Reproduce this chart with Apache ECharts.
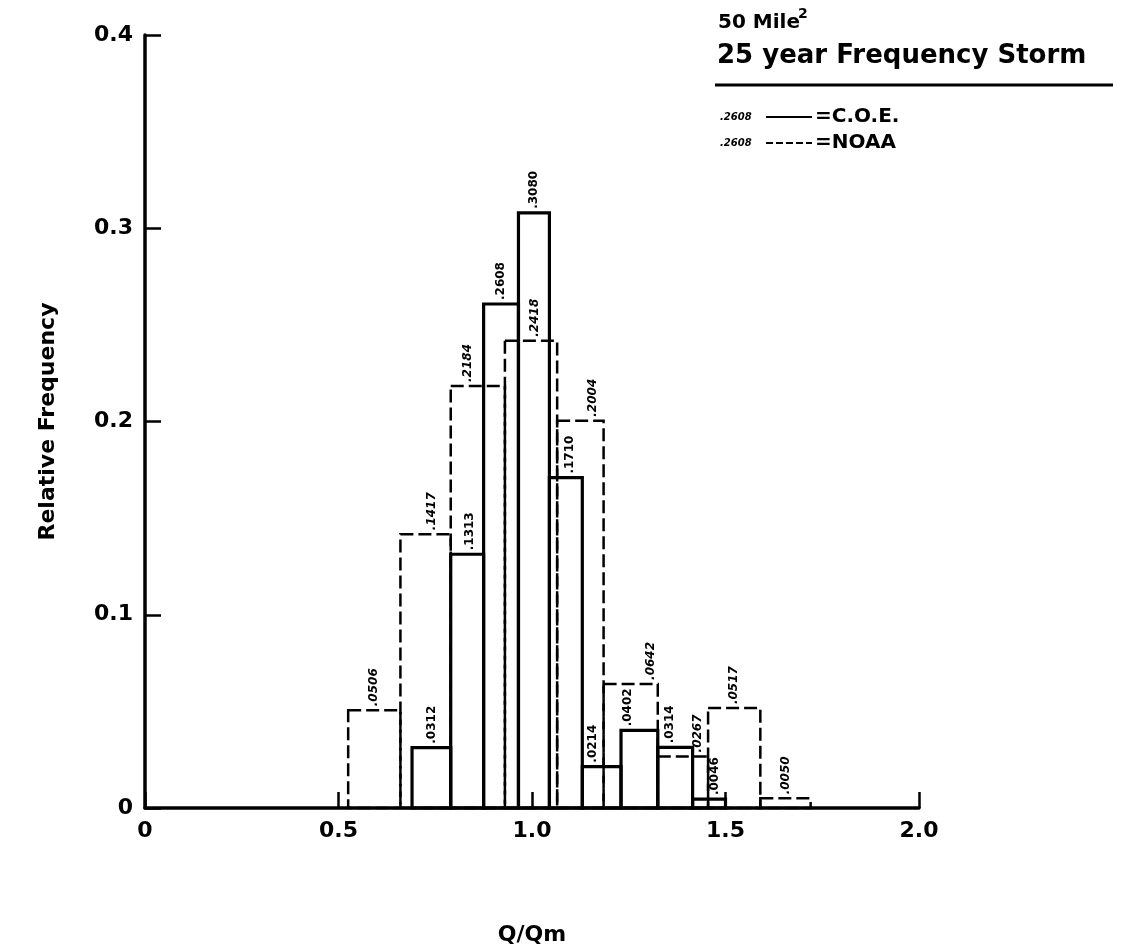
<!DOCTYPE html>
<html><head><meta charset="utf-8">
<script src="https://cdn.jsdelivr.net/npm/echarts@6/dist/echarts.min.js"></script>
<style>html,body{margin:0;padding:0;background:#fff}#c{width:1121px;height:951px}</style>
</head><body><div id="c"></div>
<script>
// ---------- DATA ----------
const coeEdges   = [0.69, 0.79, 0.875, 0.965, 1.045, 1.13, 1.23, 1.325, 1.415, 1.50];
const coeValues  = [0.0312, 0.1313, 0.2608, 0.3080, 0.1710, 0.0214, 0.0402, 0.0314, 0.0046];
const coeLabels  = ['.0312', '.1313', '.2608', '.3080', '.1710', '.0214', '.0402', '.0314', '.0046'];
const noaaEdges  = [0.525, 0.66, 0.79, 0.93, 1.065, 1.185, 1.325, 1.455, 1.59, 1.72];
const noaaValues = [0.0506, 0.1417, 0.2184, 0.2418, 0.2004, 0.0642, 0.0267, 0.0517, 0.0050];
const noaaLabels = ['.0506', '.1417', '.2184', '.2418', '.2004', '.0642', '.0267', '.0517', '.0050'];
const xTickLabels = {0: '0', 0.5: '0.5', 1: '1.0', 1.5: '1.5', 2: '2.0'};
const yTickLabels = {0: '0', 0.1: '0.1', 0.2: '0.2', 0.3: '0.3', 0.4: '0.4'};
const titleLine1 = '50 Mile';
const titleSup = '2';
const titleLine2 = '25 year Frequency Storm';
const legendSample = '.2608';
const legendCOE = '=C.O.E.';
const legendNOAA = '=NOAA';
const xName = 'Q/Qm';
const yName = 'Relative Frequency';

// ---------- STYLE (label nudges in px) ----------
const coeLabelDx  = [0, 3, 0, 0, 4, -9, -12, -5, 6];
const noaaLabelDx = [0, 6, -10, 4, 12, 20, 15, 0, 0];
const FONT = 'DejaVu Sans';

function binData(edges, values) {
  return values.map((v, i) => [edges[i], edges[i + 1], v]);
}

function makeRender(dashed, labels, dxArr) {
  return function (params, api) {
    const x0 = api.value(0), x1 = api.value(1), v = api.value(2);
    const p0 = api.coord([x0, v]);
    const p1 = api.coord([x1, 0]);
    const i = params.dataIndex;
    const cx = (p0[0] + p1[0]) / 2 + dxArr[i];
    return {
      type: 'group',
      children: [
        {
          type: 'rect',
          shape: { x: p0[0], y: p0[1], width: p1[0] - p0[0], height: p1[1] - p0[1] },
          style: { fill: 'none', stroke: '#000', lineWidth: dashed ? 2.5 : 3.2, lineDash: dashed ? [13, 5] : null }
        },
        {
          type: 'text',
          x: cx, y: p0[1] - 4,
          rotation: Math.PI / 2,
          style: {
            text: labels[i], fill: '#000',
            fontFamily: FONT, fontSize: 12, fontWeight: 'bold',
            fontStyle: dashed ? 'italic' : 'normal',
            align: 'left', verticalAlign: 'middle'
          }
        }
      ]
    };
  };
}

const chart = echarts.init(document.getElementById('c'), null, { renderer: 'canvas' });
chart.setOption({
  backgroundColor: '#fff',
  animation: false,
  grid: { left: 145, top: 35, right: 202, bottom: 143 },
  xAxis: {
    type: 'value', min: 0, max: 2, interval: 0.5,
    name: xName, nameLocation: 'middle', nameGap: 116,
    nameTextStyle: { fontFamily: FONT, fontSize: 22, fontWeight: 'bold', color: '#000' },
    axisLine: { show: true, lineStyle: { color: '#000', width: 3.5 } },
    axisTick: { show: true, inside: true, length: 16, lineStyle: { color: '#000', width: 2.5 } },
    axisLabel: { margin: 12, color: '#000', fontFamily: FONT, fontSize: 22, fontWeight: 'bold',
      formatter: v => xTickLabels[v] },
    splitLine: { show: false }
  },
  yAxis: {
    type: 'value', min: 0, max: 0.4, interval: 0.1,
    name: yName, nameLocation: 'middle', nameGap: 86, nameRotate: 90,
    nameTextStyle: { fontFamily: FONT, fontSize: 22, fontWeight: 'bold', color: '#000' },
    axisLine: { show: true, lineStyle: { color: '#000', width: 3.5 } },
    axisTick: { show: true, inside: true, length: 16, lineStyle: { color: '#000', width: 2.5 } },
    axisLabel: { margin: 12, color: '#000', fontFamily: FONT, fontSize: 22, fontWeight: 'bold',
      formatter: v => yTickLabels[Math.round(v * 10) / 10] },
    splitLine: { show: false }
  },
  series: [
    {
      type: 'custom', name: 'NOAA',
      renderItem: makeRender(true, noaaLabels, noaaLabelDx),
      encode: { x: [0, 1], y: 2 },
      data: binData(noaaEdges, noaaValues),
      z: 2
    },
    {
      type: 'custom', name: 'C.O.E.',
      renderItem: makeRender(false, coeLabels, coeLabelDx),
      encode: { x: [0, 1], y: 2 },
      data: binData(coeEdges, coeValues),
      z: 3
    }
  ],
  graphic: [
    { type: 'text', x: 718, y: 13, style: { text: titleLine1, fill: '#000', fontFamily: FONT, fontSize: 20, fontWeight: 'bold' } },
    { type: 'text', x: 798, y: 7, style: { text: titleSup, fill: '#000', fontFamily: FONT, fontSize: 14, fontWeight: 'bold' } },
    { type: 'text', x: 717, y: 43, style: { text: titleLine2, fill: '#000', fontFamily: FONT, fontSize: 26, fontWeight: 'bold' } },
    { type: 'line', shape: { x1: 715, y1: 85, x2: 1113, y2: 85 }, style: { stroke: '#000', lineWidth: 3 } },
    { type: 'text', x: 720, y: 117, style: { text: legendSample, fill: '#000', fontFamily: FONT, fontSize: 10, fontWeight: 'bold', fontStyle: 'italic', verticalAlign: 'middle' } },
    { type: 'line', shape: { x1: 766, y1: 117, x2: 812, y2: 117 }, style: { stroke: '#000', lineWidth: 2 } },
    { type: 'text', x: 815, y: 117, style: { text: legendCOE, fill: '#000', fontFamily: FONT, fontSize: 20, fontWeight: 'bold', verticalAlign: 'middle' } },
    { type: 'text', x: 720, y: 143, style: { text: legendSample, fill: '#000', fontFamily: FONT, fontSize: 10, fontWeight: 'bold', fontStyle: 'italic', verticalAlign: 'middle' } },
    { type: 'line', shape: { x1: 766, y1: 143, x2: 812, y2: 143 }, style: { stroke: '#000', lineWidth: 2, lineDash: [7, 3] } },
    { type: 'text', x: 815, y: 143, style: { text: legendNOAA, fill: '#000', fontFamily: FONT, fontSize: 20, fontWeight: 'bold', verticalAlign: 'middle' } }
  ]
});
</script>
</body></html>
